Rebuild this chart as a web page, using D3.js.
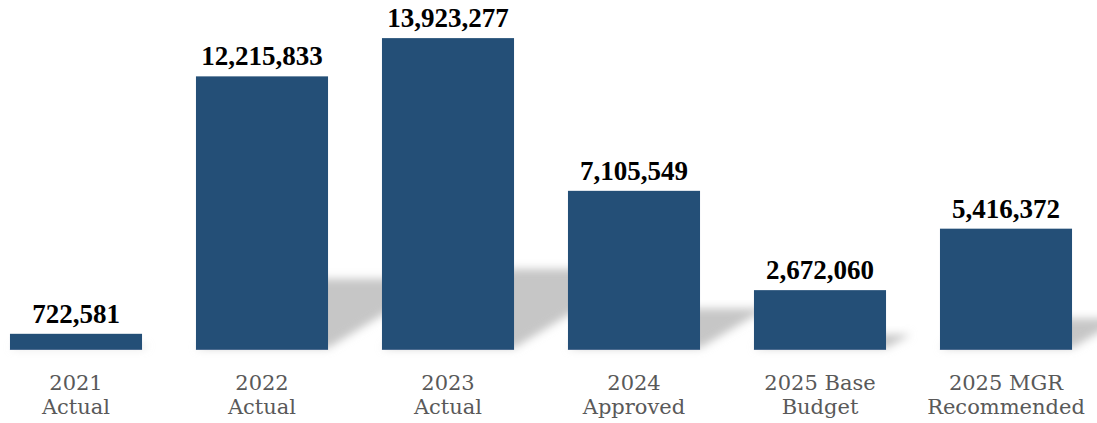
<!DOCTYPE html>
<html>
<head>
<meta charset="utf-8">
<script src="https://cdn.jsdelivr.net/npm/d3@7/dist/d3.min.js"></script>
<style>
  html, body { margin: 0; padding: 0; background: #ffffff; }
  svg { display: block; }
</style>
</head>
<body>
<svg id="chart" width="1097" height="423"></svg>
<script>
// Budget by fiscal year
const categories = ["2021 Actual", "2022 Actual", "2023 Actual", "2024 Approved", "2025 Base Budget", "2025 MGR Recommended"];
const labelLines = [["2021", "Actual"], ["2022", "Actual"], ["2023", "Actual"], ["2024", "Approved"], ["2025 Base", "Budget"], ["2025 MGR", "Recommended"]];
const amounts = [722581, 12215833, 13923277, 7105549, 2672060, 5416372];
const yMax = 14000000;

const width = 1097, height = 423;
const baseY = 350;

const svg = d3.select("#chart");

const x = d3.scaleBand()
  .domain(categories)
  .range([-17, 1099])
  .paddingInner(0.29)
  .paddingOuter(0.145);

const y = d3.scaleLinear().domain([0, yMax]).range([baseY, 36.4]);

const fmt = d3.format(",");

// soft floor shadow cast behind each bar
const defs = svg.append("defs");
defs.append("filter")
  .attr("id", "shadowBlur")
  .attr("x", "-20%").attr("y", "-40%")
  .attr("width", "140%").attr("height", "180%")
  .append("feGaussianBlur")
  .attr("stdDeviation", 4.5);

const shadowK = 0.26, shadowSlant = 1.6;
svg.append("g")
  .attr("filter", "url(#shadowBlur)")
  .selectAll("path")
  .data(categories)
  .join("path")
  .attr("fill", "#c6c6c6")
  .attr("d", (c, i) => {
    const x0 = x(c), x1 = x(c) + x.bandwidth();
    const h = (baseY - y(amounts[i])) * shadowK;
    const dx = h * shadowSlant;
    return `M${x0},${baseY - 2}L${x1},${baseY - 2}L${x1 + dx},${baseY - h}L${x0 + dx},${baseY - h}Z`;
  });

// bars
const bars = svg.append("g");
bars.selectAll("rect")
  .data(categories)
  .join("rect")
  .attr("x", c => x(c))
  .attr("width", x.bandwidth())
  .attr("y", (c, i) => y(amounts[i]))
  .attr("height", (c, i) => baseY - y(amounts[i]))
  .attr("fill", "#244f77");

// lighter bottom edge of each bar
bars.selectAll("line")
  .data(categories)
  .join("line")
  .attr("x1", c => x(c))
  .attr("x2", c => x(c) + x.bandwidth())
  .attr("y1", baseY - 0.5)
  .attr("y2", baseY - 0.5)
  .attr("stroke", "#4c6b8f")
  .attr("stroke-width", 1);

// value labels
svg.append("g")
  .selectAll("text")
  .data(categories)
  .join("text")
  .attr("x", c => x(c) + x.bandwidth() / 2)
  .attr("y", (c, i) => y(amounts[i]) - 11)
  .attr("text-anchor", "middle")
  .attr("font-family", "'Liberation Serif', 'Times New Roman', serif")
  .attr("font-weight", "bold")
  .attr("font-size", 27)
  .attr("fill", "#000000")
  .text((c, i) => fmt(amounts[i]));

// category labels
const cat = svg.append("g")
  .selectAll("text")
  .data(categories)
  .join("text")
  .attr("x", c => x(c) + x.bandwidth() / 2)
  .attr("y", 390)
  .attr("text-anchor", "middle")
  .attr("font-family", "'DejaVu Serif', Georgia, serif")
  .attr("font-size", 21)
  .attr("fill", "#595959");

cat.selectAll("tspan")
  .data((c, i) => labelLines[i])
  .join("tspan")
  .attr("x", function () { return d3.select(this.parentNode).attr("x"); })
  .attr("dy", (d, j) => j === 0 ? 0 : 24)
  .text(d => d);
</script>
</body>
</html>
